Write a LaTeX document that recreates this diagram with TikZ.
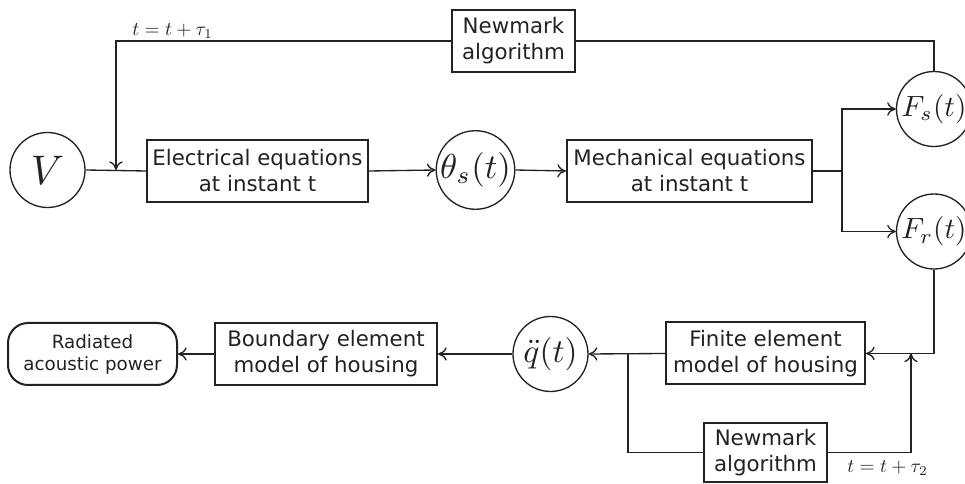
\documentclass[tikz,border=0pt]{standalone}
\usepackage{fontspec}
\setmainfont{DejaVu Sans}
\usepackage{graphicx}
\usetikzlibrary{calc,arrows.meta}
\definecolor{ink}{HTML}{222222}
\tikzset{
  txt/.style={font=\fontsize{16}{19.5}\selectfont},
  thickbox/.style={draw=ink, line width=1.5pt, rectangle, align=center, inner sep=0pt, minimum height=46.5pt, txt},
  thinbox/.style={draw=ink, line width=0.9pt, rectangle, align=center, inner sep=0pt, minimum width=92.25pt, txt},
  var/.style={draw=ink, line width=1pt, circle, inner sep=0pt, minimum size=56.25pt},
  conn/.style={draw=ink, line width=1pt},
  arr/.style={conn, -{Computer Modern Rightarrow[length=6.5pt,width=10pt]}},
  lab/.style={inner sep=0pt, text=ink}
}
\begin{document}
\begin{tikzpicture}[x=0.75pt, y=-0.75pt, text=ink]
\useasboundingbox (0,0) rectangle (965,484);
% circles
\node[var] (v) at (47.5,170) {\scalebox{3.1}{$V$}};
\node[var] (th) at (475.5,170) {\scalebox{2.6}{$\theta_s(t)$}};
\node[var] (fs) at (934,109) {\scalebox{2.2}{$F_s(t)$}};
\node[var] (fr) at (934,231.5) {\scalebox{2.2}{$F_r(t)$}};
\node[var] (q) at (550.5,354) {\scalebox{2.5}{$\ddot{q}(t)$}};
% boxes
\node[thickbox, minimum width=165.75pt] (el) at (257.5,171) {Electrical equations\\at instant t};
\node[thickbox, minimum width=183.75pt] (me) at (689.5,171) {Mechanical equations\\at instant t};
\node[thinbox, minimum height=46.5pt] (nm1) at (513.5,41) {Newmark\\algorithm};
\node[thickbox, minimum width=166.5pt] (be) at (326,354) {Boundary element\\model of housing};
\node[thickbox, minimum width=149.25pt] (fe) at (765.5,353.5) {Finite element\\model of housing};
\node[thinbox, minimum height=44.25pt] (nm2) at (765.5,452.5) {Newmark\\algorithm};
\node[draw=ink, line width=1.5pt, rounded corners=15pt, align=center, inner sep=0pt,
      minimum width=126.75pt, minimum height=46.5pt,
      font=\fontsize{13.7}{16.5}\selectfont] (rp) at (92.5,354) {Radiated\\acoustic power};
% coordinates
\coordinate (c1) at (116,41);
\coordinate (c2) at (842,171);
\coordinate (c3) at (628,353.5);
\coordinate (c4) at (911,353.5);
% connectors
\draw[conn] (v.east) -- (el.west);
\draw[arr] (nm1.west) -- (c1) -- (c1 |- v.east);
\draw[conn] (nm1.east) -| (fs.north);
\draw[arr] (el.east) -- (th.west);
\draw[arr] (th.east) -- (me.west);
\draw[conn] (me.east) -- (c2);
\draw[arr] (c2) |- (fs.west);
\draw[arr] (c2) |- (fr.west);
\draw[arr] (fr.south) |- (fe.east);
\draw[arr] (fe.west) -- (q.east);
\draw[conn] (c3) |- (nm2.west);
\draw[arr] (nm2.east) -| (c4);
\draw[arr] (q.west) -- (be.east);
\draw[arr] (be.west) -- (rp.east);
% labels
\node[lab, anchor=base west] (l1) at (132,36) {\scalebox{1.45}{$t=t+\tau_1$}};
\node[lab, anchor=base west] (l2) at (847,473) {\scalebox{1.45}{$t=t+\tau_2$}};
\end{tikzpicture}
\end{document}
